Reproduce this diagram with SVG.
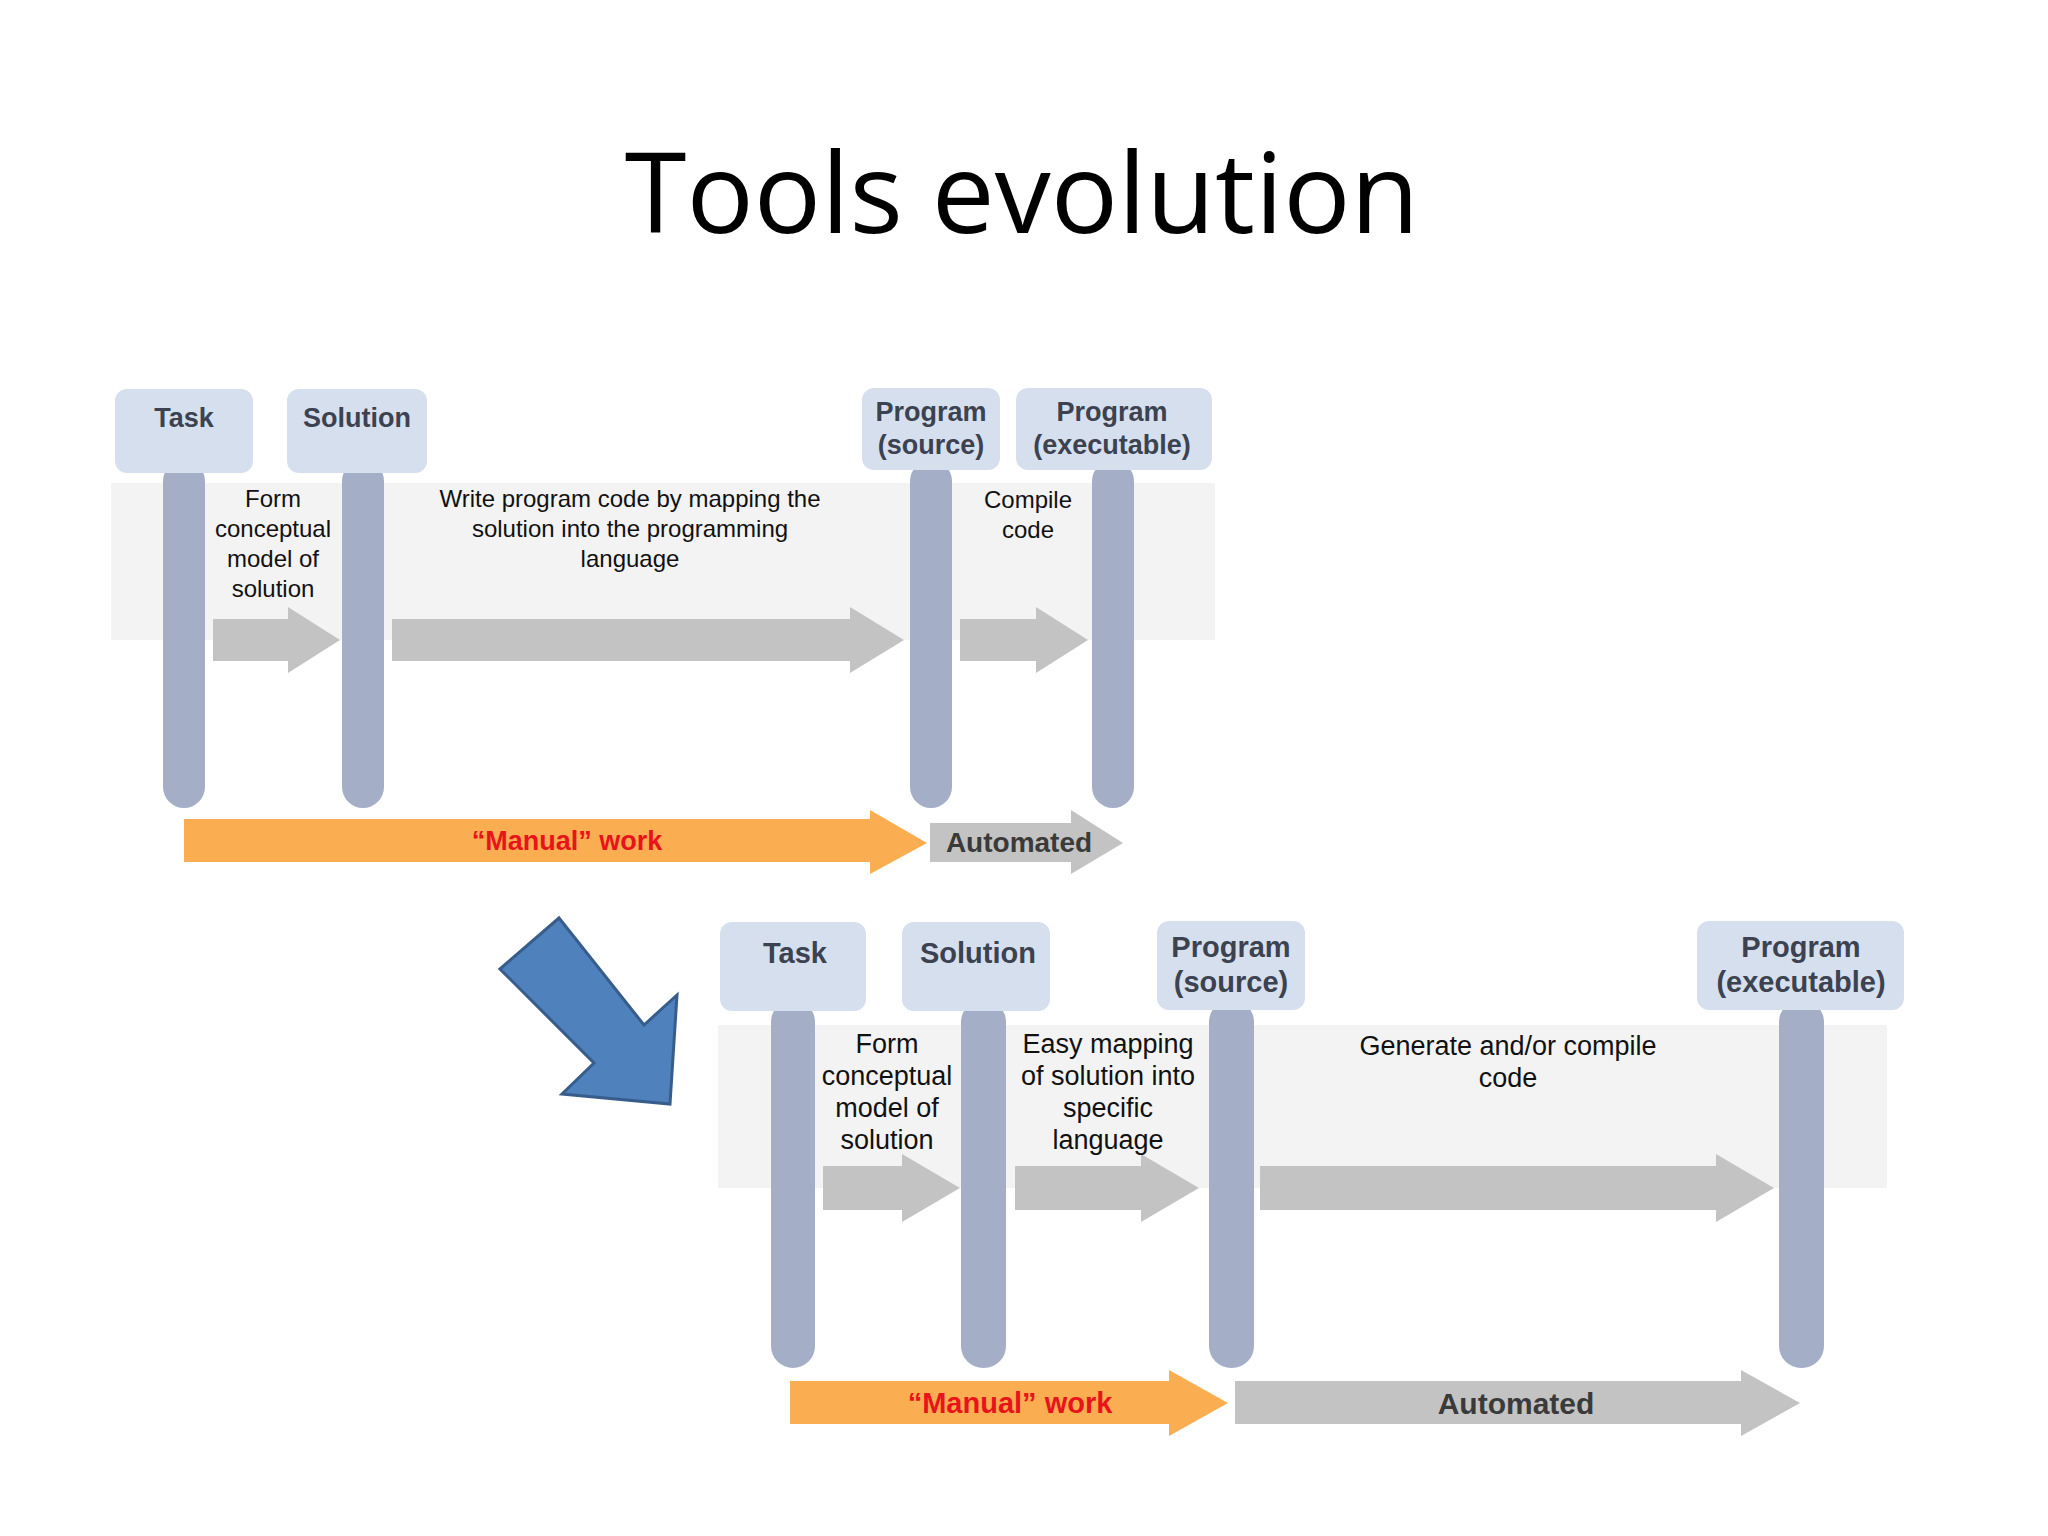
<svg xmlns="http://www.w3.org/2000/svg" width="2048" height="1536" viewBox="0 0 2048 1536">
<style>
.box{fill:#d6dfee;}
.bar{fill:#a4afc7;}
.ga{fill:#c3c3c3;}
.band{fill:#f3f3f3;}
.h{font-family:"Liberation Sans",Arial,sans-serif;font-weight:bold;fill:#3c4250;text-anchor:middle;}
.t{font-family:"Liberation Sans",Arial,sans-serif;fill:#111;text-anchor:middle;}
.m{font-family:"Liberation Sans",Arial,sans-serif;font-weight:bold;fill:#e8141b;text-anchor:middle;}
.a{font-family:"Liberation Sans",Arial,sans-serif;font-weight:bold;fill:#3a3a3a;text-anchor:middle;}
</style>
<rect width="2048" height="1536" fill="#fff"/>
<text x="1022" y="233" font-family="Open Sans,Liberation Sans,sans-serif" font-size="112" text-anchor="middle" fill="#000">Tools evolution</text>

<rect class="band" x="111" y="483" width="1104" height="157"/>
<rect class="band" x="718" y="1025" width="1169" height="163"/>

<g id="top-task"><rect class="bar" x="163" y="460" width="42" height="348" rx="21"/><rect class="box" x="115" y="389" width="138" height="84" rx="12"/><text class="h" x="184" y="427" font-size="27">Task</text></g>
<g id="top-solution"><rect class="bar" x="342" y="460" width="42" height="348" rx="21"/><rect class="box" x="287" y="389" width="140" height="84" rx="12"/><text class="h" x="357" y="427" font-size="27">Solution</text></g>
<g id="top-source"><rect class="bar" x="910" y="460" width="42" height="348" rx="21"/><rect class="box" x="862" y="388" width="138" height="82" rx="12"/><text class="h" x="931" y="421" font-size="27">Program</text><text class="h" x="931" y="454" font-size="27">(source)</text></g>
<g id="top-exec"><rect class="bar" x="1092" y="460" width="42" height="348" rx="21"/><rect class="box" x="1016" y="388" width="196" height="82" rx="12"/><text class="h" x="1112" y="421" font-size="27">Program</text><text class="h" x="1112" y="454" font-size="27">(executable)</text></g>

<g id="bot-task"><rect class="bar" x="771" y="1000" width="44" height="368" rx="22"/><rect class="box" x="720" y="922" width="146" height="89" rx="12"/><text class="h" x="795" y="963" font-size="29">Task</text></g>
<g id="bot-solution"><rect class="bar" x="961" y="1000" width="45" height="368" rx="22"/><rect class="box" x="902" y="922" width="148" height="89" rx="12"/><text class="h" x="978" y="963" font-size="29">Solution</text></g>
<g id="bot-source"><rect class="bar" x="1209" y="1000" width="45" height="368" rx="22"/><rect class="box" x="1157" y="921" width="148" height="89" rx="12"/><text class="h" x="1231" y="957" font-size="29">Program</text><text class="h" x="1231" y="992" font-size="29">(source)</text></g>
<g id="bot-exec"><rect class="bar" x="1779" y="1000" width="45" height="368" rx="22"/><rect class="box" x="1697" y="921" width="207" height="89" rx="12"/><text class="h" x="1801" y="957" font-size="29">Program</text><text class="h" x="1801" y="992" font-size="29">(executable)</text></g>

<g id="connectors">
<polygon class="ga" points="213,619 288,619 288,607 340,640 288,673 288,661 213,661"/>
<polygon class="ga" points="392,619 850,619 850,607 904,640 850,673 850,661 392,661"/>
<polygon class="ga" points="960,619 1036,619 1036,607 1088,640 1036,673 1036,661 960,661"/>
<polygon class="ga" points="823,1166 902,1166 902,1154 960,1188 902,1222 902,1210 823,1210"/>
<polygon class="ga" points="1015,1166 1141,1166 1141,1154 1199,1188 1141,1222 1141,1210 1015,1210"/>
<polygon class="ga" points="1260,1166 1716,1166 1716,1154 1774,1188 1716,1222 1716,1210 1260,1210"/>
<polygon fill="#fbad52" points="184,819 870,819 870,810 927,843 870,874 870,862 184,862"/>
<polygon class="ga" points="930,823 1071,823 1071,810 1123,843 1071,874 1071,862 930,862"/>
<polygon fill="#fbad52" points="790,1381 1169,1381 1169,1370 1228,1403 1169,1436 1169,1424 790,1424"/>
<polygon class="ga" points="1235,1381 1741,1381 1741,1370 1800,1403 1741,1436 1741,1424 1235,1424"/>
<polygon fill="#4f81bd" stroke="#385d8a" stroke-width="3" points="500,969 559,918 644,1025 677,995 670,1104 562,1094 594,1063"/>
</g>

<g font-size="24">
<text class="t" x="273" y="507">Form</text><text class="t" x="273" y="537">conceptual</text><text class="t" x="273" y="567">model of</text><text class="t" x="273" y="597">solution</text>
<text class="t" x="630" y="507">Write program code by mapping the</text><text class="t" x="630" y="537">solution into the programming</text><text class="t" x="630" y="567">language</text>
<text class="t" x="1028" y="508">Compile</text><text class="t" x="1028" y="538">code</text>
</g>
<g font-size="27">
<text class="t" x="887" y="1053">Form</text><text class="t" x="887" y="1085">conceptual</text><text class="t" x="887" y="1117">model of</text><text class="t" x="887" y="1149">solution</text>
<text class="t" x="1108" y="1053">Easy mapping</text><text class="t" x="1108" y="1085">of solution into</text><text class="t" x="1108" y="1117">specific</text><text class="t" x="1108" y="1149">language</text>
<text class="t" x="1508" y="1055">Generate and/or compile</text><text class="t" x="1508" y="1087">code</text>
</g>
<text class="m" x="567" y="850" font-size="27">“Manual” work</text>
<text class="a" x="1019" y="852" font-size="28">Automated</text>
<text class="m" x="1010" y="1413" font-size="29">“Manual” work</text>
<text class="a" x="1516" y="1414" font-size="30">Automated</text>
</svg>
